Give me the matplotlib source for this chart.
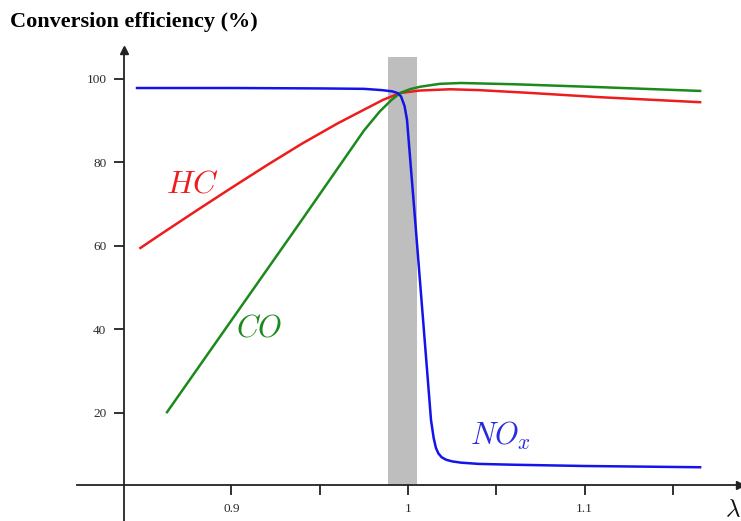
import matplotlib.pyplot as plt

# values (lambda, conversion %)
nox_lam = [0.8465, 0.90, 0.95, 0.975, 0.985, 0.991, 0.994, 0.996, 0.998,
           0.9994, 1.004, 1.0085, 1.013, 1.0145, 1.0158, 1.0172, 1.019,
           1.0215, 1.025, 1.03, 1.04, 1.06, 1.10, 1.1654]
nox_eff = [97.8, 97.8, 97.7, 97.6, 97.3, 97.0, 96.6, 95.8, 93.5,
           90.2, 66.2, 42.3, 18.3, 14.0, 11.6, 10.3, 9.4,
           8.8, 8.4, 8.1, 7.8, 7.6, 7.3, 7.0]

hc_lam = [0.8484, 0.86, 0.88, 0.90, 0.92, 0.94, 0.96, 0.975, 0.986,
          0.9955, 1.0068, 1.0238, 1.04, 1.07, 1.1088, 1.1654]
hc_eff = [59.5, 62.8, 68.4, 73.9, 79.3, 84.5, 89.3, 92.6, 95.0,
          96.6, 97.2, 97.5, 97.3, 96.6, 95.6, 94.4]

co_lam = [0.8635, 0.90, 0.94, 0.975, 0.984, 0.9905, 0.9955, 1.001, 1.0068,
          1.018, 1.03, 1.06, 1.1088, 1.1654]
co_eff = [20.2, 42.2, 66.3, 87.6, 92.2, 94.9, 96.6, 97.5, 98.1,
          98.8, 99.0, 98.7, 98.0, 97.1]

band = [0.9887, 1.005]
band_top = 105.3
x_major = [0.9, 1.0, 1.1]
x_labels = ['0.9', '1', '1.1']
x_minor = [0.95, 1.05, 1.15]
y_ticks = [20, 40, 60, 80, 100]

x_origin = 0.8394
y_origin = 2.75

plt.rcParams['font.family'] = 'Liberation Serif'
plt.rcParams['mathtext.fontset'] = 'cm'

fig = plt.figure(figsize=(7.41, 5.21), dpi=100)
ax = fig.add_axes([77 / 741, 0, 663 / 741, 471 / 521])
ax.set_xlim(0.8125, 1.188)
ax.set_ylim(-5.87, 106.9)

ax.fill_between(band, y_origin, band_top, color='#bebebe', lw=0, zorder=1)

ax.plot(hc_lam, hc_eff, color='#ee1c1c', lw=1.8, zorder=3)
ax.plot(co_lam, co_eff, color='#1b8a1b', lw=1.8, zorder=3)
ax.plot(nox_lam, nox_eff, color='#1414e8', lw=1.8, zorder=4)

for s in ['top', 'right']:
    ax.spines[s].set_visible(False)
ax.spines['left'].set_position(('data', x_origin))
ax.spines['bottom'].set_position(('data', y_origin))
for s in ['left', 'bottom']:
    ax.spines[s].set_linewidth(1.3)
    ax.spines[s].set_color('#222222')

# arrow heads
ax.plot(x_origin, 1, marker='^', ms=6, color='#222222',
        transform=ax.get_xaxis_transform(), clip_on=False)
ax.plot(1, y_origin, marker='>', ms=6, color='#222222',
        transform=ax.get_yaxis_transform(), clip_on=False)

ax.set_xticks(x_major)
ax.set_xticklabels(x_labels)
ax.set_xticks(x_minor, minor=True)
ax.set_yticks(y_ticks)
ax.tick_params(axis='both', which='both', direction='out', length=7,
               width=1.3, color='#222222', labelsize=9.5, labelcolor='#2a2a2a',
               pad=6)

ax.text(0.8776, 74.6, r'$HC$', color='#ee1c1c', fontsize=23,
        ha='center', va='center')
ax.text(0.9156, 40.1, r'$CO$', color='#1b8a1b', fontsize=22,
        ha='center', va='center')
ax.text(1.035, 14.5, r'$NO_x$', color='#2a2ae0', fontsize=22,
        ha='left', va='center')
ax.text(1.184, -3.3, r'$\lambda$', color='#111111', fontsize=18,
        ha='center', va='center', clip_on=False)

fig.text(10 / 741, 1 - 22 / 521, 'Conversion efficiency (%)',
         fontsize=16, fontweight='bold', ha='left', va='center')

fig.savefig('out.png', dpi=100)
